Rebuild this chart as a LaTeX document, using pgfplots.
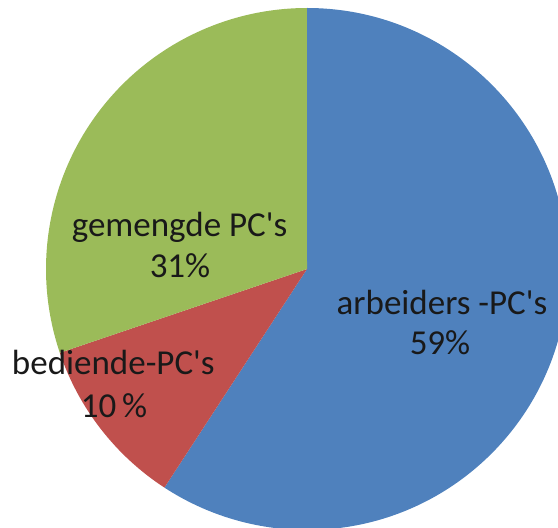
\documentclass[border=0pt]{standalone}
\usepackage{pgfplots}
\pgfplotsset{compat=1.18}
\usepackage{pgfplotstable}
\usepackage{fontspec}
\setmainfont{Carlito}
\definecolor{pieblue}{HTML}{4F81BD}
\definecolor{piered}{HTML}{C0504D}
\definecolor{piegreen}{HTML}{9BBB59}
\pgfplotstableread{
label value
arbeiders 59.2
bediende 10.6
gemengde 30.2
}\piedata
\newcommand{\q}{\textquotesingle}
\begin{document}
\begin{tikzpicture}
\begin{axis}[
  scale only axis, width=558pt, height=528pt,
  xmin=0, xmax=558, ymin=0, ymax=528,
  hide axis, clip=true,
]
\pgfplotstablegetelem{0}{value}\of\piedata \let\va\pgfplotsretval
\pgfplotstablegetelem{1}{value}\of\piedata \let\vb\pgfplotsretval
\pgfplotstablegetelem{2}{value}\of\piedata \let\vc\pgfplotsretval
\pgfmathsetmacro{\tot}{\va+\vb+\vc}
\pgfmathsetmacro{\aA}{90}
\pgfmathsetmacro{\aB}{90-\va/\tot*360}
\pgfmathsetmacro{\aC}{\aB-\vb/\tot*360}
\pgfmathsetmacro{\aD}{\aC-\vc/\tot*360}
\fill[pieblue] (axis cs:307,259) -- ++(\aA:261pt) arc[start angle=\aA, end angle=\aB, radius=261pt] -- cycle;
\fill[piered] (axis cs:307,259) -- ++(\aB:261pt) arc[start angle=\aB, end angle=\aC, radius=261pt] -- cycle;
\fill[piegreen] (axis cs:307,259) -- ++(\aC:261pt) arc[start angle=\aC, end angle=\aD, radius=261pt] -- cycle;
\begin{scope}[every node/.style={anchor=base, inner sep=0pt, font=\fontsize{35}{41}\selectfont, text=black!90}]
\node at (axis cs:179.5,291.3) {gemengde PC\q s};
\node at (axis cs:180,250.7) {31\%};
\node at (axis cs:442,213.7) {arbeiders -PC\q s};
\node at (axis cs:440,173) {59\%};
\node at (axis cs:113.3,153) {bediende-PC\q s};
\node at (axis cs:114,110.7) {10\,\%};
\end{scope}
\end{axis}
\pgfresetboundingbox
\path (current axis.south west) rectangle (current axis.north east);
\end{tikzpicture}
\end{document}
